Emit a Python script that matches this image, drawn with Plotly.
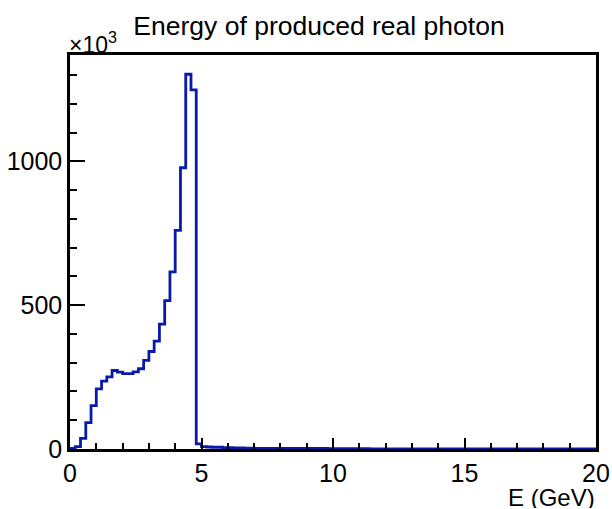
import numpy as np
import plotly.graph_objects as go

# Histogram: photon energy, 100 bins of 0.2 GeV over 0-20 GeV; counts in thousands
bin_width = 0.2
x_min, x_max = 0.0, 20.0
counts_k = [
    2, 8, 37, 92, 151, 209, 236, 251, 273, 267,
    262, 262, 268, 279, 308, 339, 375, 434, 516, 616,
    760, 978, 1303, 1249, 18,
    8, 7, 6, 6, 5, 5, 4, 4, 3, 3,
    2.5, 2.5, 2.5, 2, 2, 2, 2, 2, 2, 2,
    2, 2, 2, 2, 1.5, 1.5, 1.5, 1.5, 1.5, 1.5, 1.5, 1.5,
] + [0] * 43

title_text = "Energy of produced real photon"
x_title = "E (GeV)"
y_ticks = [0, 500, 1000]
x_ticks = [0, 5, 10, 15, 20]

n_bins = len(counts_k)
edges = np.linspace(x_min, x_max, n_bins + 1)
xs = [x_min] + list(edges)
ys = [0] + list(counts_k) + [counts_k[-1]]

line_color = "#0a1aa8"
font_family = "Liberation Sans, Arial, sans-serif"

fig = go.Figure()
fig.add_trace(go.Scatter(
    x=xs, y=ys, mode="lines", line=dict(shape="hv", color=line_color, width=2.8),
    hoverinfo="skip", showlegend=False,
))

axis_common = dict(
    showline=True, linecolor="black", linewidth=2.5, mirror=True,
    showgrid=False, zeroline=False, ticks="inside", tickcolor="black",
    tickwidth=2, tickfont=dict(family=font_family, size=25, color="black"),
    layer="above traces", automargin=False,
)

fig.update_xaxes(
    range=[x_min, x_max], tickmode="array", tickvals=x_ticks,
    ticktext=[str(v) for v in x_ticks], ticklen=11,
    minor=dict(ticks="inside", dtick=1, ticklen=6, tickwidth=2, tickcolor="black"),
    **axis_common,
)
fig.update_yaxes(
    range=[0, 1370], tickmode="array", tickvals=y_ticks,
    ticktext=[str(v) for v in y_ticks], ticklen=15,
    minor=dict(ticks="inside", dtick=100, ticklen=7.5, tickwidth=2, tickcolor="black"),
    **axis_common,
)

fig.update_layout(
    width=612, height=509, autosize=False,
    margin=dict(l=70, r=16, t=55, b=60, pad=0, autoexpand=False),
    paper_bgcolor="white", plot_bgcolor="white",
    title=dict(text=title_text, x=319 / 612, xanchor="center", xref="container",
               y=1 - 26 / 509, yanchor="middle", yref="container",
               font=dict(family=font_family, size=26.5, color="black")),
    annotations=[
        dict(text="×10<sup>3</sup>", x=-0.006, y=1.03, xref="paper", yref="paper",
             xanchor="left", yanchor="middle", showarrow=False,
             font=dict(family=font_family, size=23, color="black")),
        dict(text=x_title, x=1.0, y=-0.1206, xref="paper", yref="paper",
             xanchor="right", yanchor="middle", showarrow=False,
             height=22, valign="middle", borderpad=0,
             font=dict(family=font_family, size=24, color="black")),
    ],
)

fig.write_html("out.html")
